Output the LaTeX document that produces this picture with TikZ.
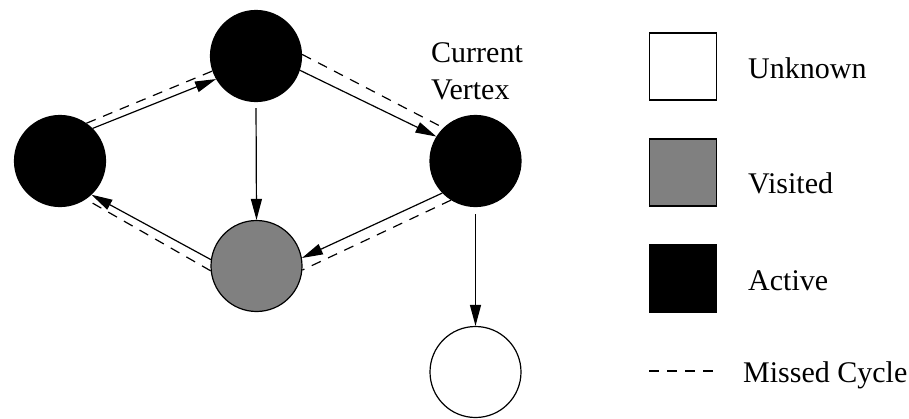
\documentclass[tikz,border=0pt]{standalone}
\usepackage{fontspec}
\setmainfont{Liberation Serif}
\usetikzlibrary{arrows.meta}
\definecolor{visitgray}{RGB}{128,128,128}
\begin{document}
\begin{tikzpicture}[x=1pt,y=-1pt,
  vertex/.style={circle,draw=black,line width=1.2pt,minimum size=91pt,inner sep=0pt},
  active/.style={vertex,fill=black},
  visited/.style={vertex,fill=visitgray},
  unknown/.style={vertex,fill=white},
  edge/.style={line width=1.2pt,-{Triangle[length=21pt,width=11pt]}},
  missed/.style={line width=1.2pt,dash pattern=on 10pt off 8pt},
  swatch/.style={draw=black,line width=1.2pt,minimum size=67pt,inner sep=0pt},
  txt/.style={inner sep=0pt,font=\fontsize{30}{37}\selectfont},
  legendtext/.style={txt,anchor=base west}
]
\useasboundingbox (0,0) rectangle (909,418);

% graph vertices
\node[active]  (top)   at (256,56)  {};
\node[active]  (left)  at (60,161)  {};
\node[active]  (cur)   at (475.5,161) {};
\node[visited] (mid)   at (256.5,266) {};
\node[unknown] (low)   at (475.5,372) {};

\node[txt,anchor=north west,align=left] (curlabel) at (431,42) {Current\\Vertex};

% traversal edges
\draw[edge] (left.45) -- (top.210.5);
\draw[edge] (top.-18) -- (cur.148);
\draw[edge] (cur.224.6) -- (mid.10);
\draw[edge] (mid.172) -- (left.-47.6);
\draw[edge,shorten <=6pt] (top.south) -- (mid.north);
\draw[edge,shorten <=7pt] (cur.south) -- (low.north);

% the cycle that was missed
\draw[missed] (left.55) -- (top.199.5);
\draw[missed] (top.2) -- (cur.134.6);
\draw[missed] (cur.238) -- (mid.-5);
\draw[missed] (mid.186) -- (left.-56);

% legend
\node[swatch,fill=white]     (kunknown) at (683,66.5)  {};
\node[swatch,fill=visitgray] (kvisited) at (683,172.5) {};
\node[swatch,fill=black]     (kactive)  at (683,278.5) {};
\coordinate (kmissA) at (649,371);
\coordinate (kmissB) at (713,371);
\draw[missed] (kmissA) -- (kmissB);

\node[legendtext] (tunknown) at (748,78)  {Unknown};
\node[legendtext] (tvisited) at (748,193) {Visited};
\node[legendtext] (tactive)  at (748,290) {Active};
\node[legendtext] (tmissed)  at (743,382) {Missed Cycle};
\end{tikzpicture}
\end{document}
